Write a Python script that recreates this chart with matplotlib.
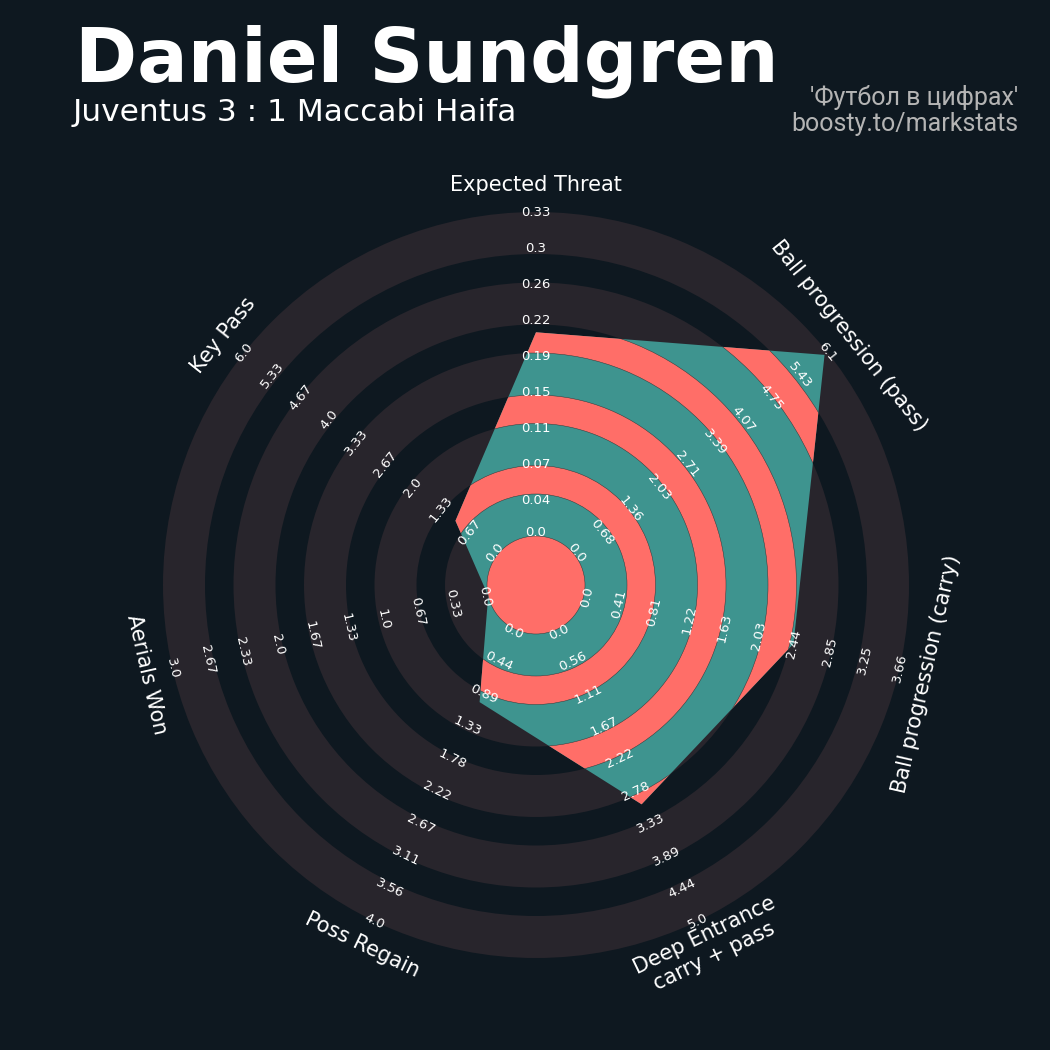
import matplotlib
matplotlib.use('Agg')
import matplotlib.pyplot as plt
import numpy as np
from matplotlib.patches import Polygon, Wedge, Circle

# colours
BG = '#0e1820'
RING = '#28252c'
TEAL = '#3e948f'
RED = '#ff6e68'
EDGE = '#2a3a3a'

# data
params = ['Expected Threat', 'Ball progression (pass)', 'Ball progression (carry)',
	'Deep Entrance\ncarry + pass', 'Poss Regain', 'Aerials Won', 'Key Pass']
min_range = [0.0, 0.0, 0.0, 0.0, 0.0, 0.0, 0.0]
max_range = [0.334, 6.104, 3.66, 5.0, 4.0, 3.0, 6.0]
values = [0.21, 6.03, 2.43, 3.0, 1.0, 0.0, 1.0]

player = 'Daniel Sundgren'
match = 'Juventus 3 : 1 Maccabi Haifa'
credit_lines = ["'Футбол в цифрах'", 'boosty.to/markstats']

# geometry, in pixels of the 1050 px figure
SIZE = 1050
CX, CY = 536, 585
CENTER_R = 49
OUTER_R = 373
RING_W = 42
GAP_W = 28.5
NUM_DARK = 5
NUM_LABELS = 10
PARAM_R = 400


def to_radius(v, lo, hi):
	"""Map a value onto the radar radius (center circle edge -> outer edge)."""
	return CENTER_R + (v - lo) / (hi - lo) * (OUTER_R - CENTER_R)


def text_rotation(theta_deg):
	"""Rotation so the text follows the ring tangent and stays readable."""
	rot = -theta_deg
	while rot <= -90:
		rot += 180
	return rot


fig = plt.figure(figsize=(SIZE / 100, SIZE / 100), dpi=100, facecolor=BG)
ax = fig.add_axes([0, 0, 1, 1])
ax.set_xlim(-CX, SIZE - CX)
ax.set_ylim(-(SIZE - CY), CY)
ax.set_aspect('equal')
ax.axis('off')
ax.set_facecolor(BG)

n = len(params)
theta = np.arange(n) * 2 * np.pi / n
sin_t, cos_t = np.sin(theta), np.cos(theta)

# background rings
for i in range(NUM_DARK):
	inner = CENTER_R + i * (RING_W + GAP_W)
	ax.add_patch(Wedge((0, 0), inner + RING_W, 0, 360, width=RING_W,
		facecolor=RING, edgecolor='none', zorder=1))

# radar polygon
radii = [to_radius(v, lo, hi) for v, lo, hi in zip(values, min_range, max_range)]
verts = np.column_stack([radii * sin_t, radii * cos_t])
poly = Polygon(verts, closed=True, facecolor=TEAL, edgecolor='none', zorder=2)
ax.add_patch(poly)

# red rings inside the polygon
for i in range(NUM_DARK - 1):
	inner = CENTER_R + i * (RING_W + GAP_W) + RING_W
	ring = Wedge((0, 0), inner + GAP_W, 0, 360, width=GAP_W,
		facecolor=RED, edgecolor=EDGE, lw=0.35, zorder=3)
	ax.add_patch(ring)
	ring.set_clip_path(poly)

ax.add_patch(Circle((0, 0), CENTER_R, facecolor=RED, edgecolor=EDGE, lw=0.35, zorder=4))

# range labels
for k in range(n):
	rot = text_rotation(np.degrees(theta[k]))
	label_vals = np.linspace(min_range[k], max_range[k], NUM_LABELS)
	for j, v in enumerate(label_vals):
		r = to_radius(v, min_range[k], max_range[k])
		if j == 0:
			r += 3
		ax.text(r * sin_t[k], r * cos_t[k], str(round(float(v), 2)),
			color='white', fontsize=9.5, ha='center', va='center',
			rotation=rot, rotation_mode='anchor', zorder=5)

# param labels
for k in range(n):
	rot = text_rotation(np.degrees(theta[k]))
	ax.text(PARAM_R * sin_t[k], PARAM_R * cos_t[k], params[k],
		color='white', fontsize=15, ha='center', va='center',
		multialignment='center', rotation=rot, rotation_mode='anchor', zorder=5)

# titles
fig.text(75 / SIZE, 1 - 82 / SIZE, player, color='white', fontsize=54,
	fontweight='bold', ha='left', va='baseline')
fig.text(73 / SIZE, 1 - 121 / SIZE, match, color='white', fontsize=22.5,
	ha='left', va='baseline')
fig.text(1018 / SIZE, 1 - 105 / SIZE, credit_lines[0], color='#b4b4b4',
	fontsize=18, ha='right', va='baseline', family=['Roboto', 'DejaVu Sans'])
fig.text(1018 / SIZE, 1 - 131 / SIZE, credit_lines[1], color='#b4b4b4',
	fontsize=18, ha='right', va='baseline', family=['Roboto', 'DejaVu Sans'])

fig.savefig('out.png', dpi=100, facecolor=BG)
